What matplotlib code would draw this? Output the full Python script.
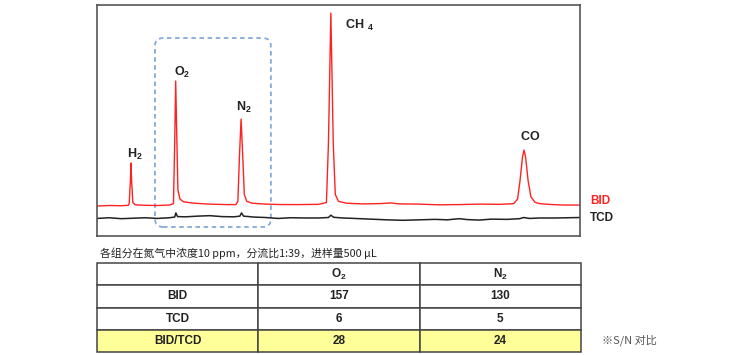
import matplotlib
matplotlib.use("Agg")
import matplotlib.pyplot as plt
from matplotlib.patches import FancyBboxPatch

plt.rcParams["font.family"] = ["Liberation Sans", "Noto Sans CJK SC", "DejaVu Sans"]
plt.rcParams["mathtext.fontset"] = "custom"
plt.rcParams["mathtext.rm"] = "Liberation Sans"
plt.rcParams["mathtext.bf"] = "Liberation Sans:bold"

# chromatogram traces (time in min, signal in arbitrary units)
bid_time = [0.0, 0.3, 0.6, 0.78, 0.80, 0.83, 0.845, 0.86, 0.89, 0.95, 1.2, 1.5, 1.8,
            1.90, 1.93, 1.955, 1.98, 2.01, 2.06, 2.15, 2.4, 2.8, 3.2, 3.45,
            3.50, 3.54, 3.58, 3.62, 3.66, 3.72, 3.85, 4.2, 4.6, 5.0, 5.5,
            5.70, 5.75, 5.81, 5.87, 5.92, 6.0, 6.2, 6.6, 7.0, 7.3, 7.5, 8.0,
            8.5, 9.0, 9.5, 10.0, 10.35, 10.45, 10.51, 10.57, 10.61, 10.65,
            10.71, 10.78, 10.88, 11.0, 11.3, 11.6, 12.0]
bid_signal = [13.0, 13.2, 13.1, 13.3, 14.0, 24.0, 31.6, 24.0, 14.5, 13.5, 13.3, 13.2, 13.4,
              14.0, 40.0, 67.1, 45.0, 20.0, 16.0, 14.8, 14.2, 13.8, 13.6, 13.6,
              15.0, 35.0, 50.6, 35.0, 18.0, 15.0, 14.2, 13.8, 13.6, 13.6, 13.7,
              14.5, 40.0, 96.5, 40.0, 18.0, 15.0, 14.2, 13.9, 14.0, 14.3, 13.9, 13.8,
              13.5, 13.6, 13.8, 13.7, 14.0, 16.0, 24.0, 34.0, 37.2, 34.0,
              24.0, 17.0, 14.6, 14.0, 13.6, 13.4, 13.4]

tcd_time = [0.0, 0.3, 0.6, 0.9, 1.2, 1.5, 1.8, 1.93, 1.96, 2.0, 2.2, 2.5, 2.8, 3.1,
            3.4, 3.55, 3.59, 3.64, 3.9, 4.2, 4.5, 4.8, 5.2, 5.5, 5.75, 5.81,
            5.88, 6.1, 6.4, 6.8, 7.2, 7.6, 8.0, 8.4, 8.7, 9.0, 9.2, 9.5, 9.8,
            10.2, 10.5, 10.6, 10.75, 11.0, 11.4, 11.7, 12.0]
tcd_signal = [7.6, 7.9, 7.5, 7.7, 7.9, 7.6, 7.9, 8.2, 10.0, 8.4, 8.3, 8.6, 8.8, 8.4,
              8.3, 8.6, 10.0, 8.6, 8.2, 8.0, 7.6, 7.9, 7.8, 7.8, 8.0, 9.0,
              8.1, 7.8, 7.6, 7.3, 7.0, 6.8, 7.0, 7.2, 7.0, 7.5, 7.1, 6.9, 7.3,
              7.2, 7.5, 8.0, 7.6, 7.8, 7.8, 7.9, 8.0]

peak_labels = [r"$\mathbf{H_2}$", r"$\mathbf{O_2}$", r"$\mathbf{N_2}$",
               r"$\mathbf{CH}\ {}_{\mathbf{4}}$", r"$\mathbf{CO}$"]
label_time = [0.745, 1.913, 3.453, 6.16, 10.51]
label_signal = [35.5, 71.0, 55.8, 91.3, 42.9]

# S/N table
col_labels = ["", r"$\mathbf{O_2}$", r"$\mathbf{N_2}$"]
row_labels = ["BID", "TCD", "BID/TCD"]
o2_sn = ["157", "6", "28"]
n2_sn = ["130", "5", "24"]

fig = plt.figure(figsize=(7.56, 3.55), dpi=100)

ax = fig.add_axes([97 / 756, 1 - 236 / 355, 483 / 756, 231 / 355])
ax.plot(bid_time, bid_signal, color="#ff2222", lw=1.0)
ax.plot(tcd_time, tcd_signal, color="#222222", lw=1.1)
ax.set_xlim(0, 12)
ax.set_ylim(0, 100)
ax.set_xticks([])
ax.set_yticks([])
for spine in ax.spines.values():
    spine.set_color("#555555")
    spine.set_linewidth(1.2)

for lab, t, s in zip(peak_labels, label_time, label_signal):
    ax.text(t, s, lab, fontsize=9, color="#222222", ha="left", va="center")

# dashed highlight around O2 / N2
box = FancyBboxPatch((1.44, 3.9), 4.32 - 1.44, 85.7 - 3.9,
                     boxstyle="round,pad=0,rounding_size=0.2", mutation_aspect=17.5,
                     fill=False, edgecolor="#84a9db", lw=1.3, linestyle=(0, (2.5, 2)))
ax.add_patch(box)

fig.text(590 / 756, 1 - 201 / 355, "BID", color="#ff2222", fontsize=8.5,
         fontweight="bold", va="center")
fig.text(590 / 756, 1 - 218 / 355, "TCD", color="#222222", fontsize=8.5,
         fontweight="bold", va="center")

fig.text(100 / 756, 1 - 253 / 355, "各组分在氮气中浓度10 ppm，分流比1:39，进样量500 μL",
         fontsize=7.8, color="#222222", va="center",
         family=["Noto Sans CJK SC", "DejaVu Sans"])

tax = fig.add_axes([97 / 756, 3 / 355, 484 / 756, 89 / 355])
tax.axis("off")
cells = [col_labels] + [[r, a, b] for r, a, b in zip(row_labels, o2_sn, n2_sn)]
table = tax.table(cellText=cells, bbox=[0, 0, 1, 1], cellLoc="center")
table.auto_set_font_size(False)
for (r, c), cell in table.get_celld().items():
    cell.set_edgecolor("#444444")
    cell.set_linewidth(1.1)
    cell.get_text().set_fontsize(8.5)
    cell.get_text().set_fontweight("bold")
    cell.get_text().set_color("#222222")
    if r == 3:
        cell.set_facecolor("#ffff99")

fig.text(602 / 756, 1 - 340 / 355, "※S/N 对比", fontsize=8, color="#555555",
         va="center", family=["Noto Sans CJK SC", "DejaVu Sans"])

fig.savefig("out.png", dpi=100)
